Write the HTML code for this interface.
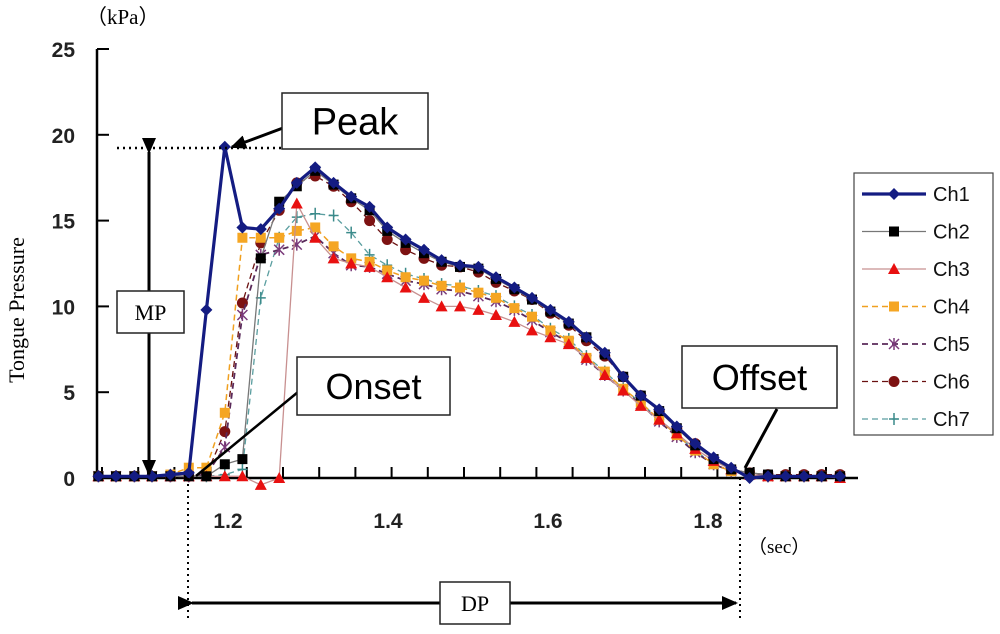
<!DOCTYPE html>
<html><head><meta charset="utf-8">
<style>
html,body{margin:0;padding:0;background:#fff;}
svg{display:block;font-family:"Liberation Sans",sans-serif;}
</style></head>
<body>
<svg id="chart" width="1000" height="634" viewBox="0 0 1000 634">
<defs>
<marker id="ah2" markerWidth="16" markerHeight="14" refX="14" refY="7" orient="auto" markerUnits="userSpaceOnUse"><path d="M0,0 L16,7 L0,14 z" fill="#000"/></marker>
</defs>
<g id="axes"></g>
<g id="series"></g>
<g id="annot"></g>
<g id="legend"></g>
</svg>
<script>
const times=[1.038,1.060,1.083,1.105,1.128,1.151,1.173,1.196,1.218,1.241,1.264,1.286,1.309,1.332,1.354,1.377,1.399,1.422,1.445,1.467,1.490,1.513,1.535,1.558,1.580,1.603,1.626,1.648,1.671,1.694,1.716,1.739,1.761,1.784,1.807,1.829,1.852,1.875,1.897,1.920,1.942,1.965];
const ch1=[0.1,0.1,0.1,0.1,0.2,0.3,9.8,19.3,14.6,14.5,15.7,17.2,18.1,17.2,16.4,15.8,14.6,13.9,13.3,12.7,12.4,12.3,11.7,11.1,10.5,9.8,9.1,8.2,7.3,5.9,4.8,4.0,3.0,2.0,1.2,0.6,0.0,0.1,0.1,0.1,0.1,0.1];
const ch2=[0.1,0.1,0.1,0.1,0.1,0.1,0.1,0.8,1.1,12.8,16.1,17.0,17.9,17.1,16.3,15.6,14.4,13.7,13.1,12.6,12.3,12.2,11.6,11.0,10.4,9.7,9.0,8.2,7.2,5.9,4.8,3.9,2.9,1.9,1.1,0.5,0.3,0.2,0.1,0.1,0.1,0.1];
const ch3=[0.1,0.1,0.1,0.1,0.1,0.1,0.1,0.1,0.1,-0.4,0.0,16.0,14.0,12.8,12.5,12.3,11.7,11.1,10.5,10.0,10.0,9.8,9.5,9.1,8.6,8.2,7.8,7.0,6.0,5.1,4.2,3.4,2.6,1.7,1.0,0.5,0.2,0.1,0.1,0.1,0.1,0.0];
const ch4=[0.1,0.1,0.1,0.1,0.2,0.6,0.6,3.8,14.0,14.0,14.0,14.4,14.6,13.5,12.8,12.6,12.1,11.7,11.5,11.2,11.1,10.8,10.5,9.9,9.4,8.6,8.0,7.0,6.2,5.2,4.4,3.4,2.5,1.6,0.8,0.4,0.2,0.1,0.1,0.1,0.1,0.1];
const ch5=[0.1,0.1,0.1,0.1,0.1,0.1,0.2,1.8,9.5,13.0,13.3,13.6,14.1,13.1,12.4,12.3,11.9,11.5,11.3,11.0,10.9,10.6,10.3,9.8,9.2,8.5,7.9,6.9,6.0,5.1,4.3,3.3,2.4,1.5,0.8,0.4,0.2,0.1,0.1,0.1,0.1,0.1];
const ch6=[0.1,0.1,0.1,0.1,0.1,0.1,0.2,2.7,10.2,13.7,15.6,17.2,17.6,17.0,16.1,15.0,13.9,13.3,12.8,12.4,12.3,12.0,11.4,10.9,10.4,9.6,8.9,8.0,7.1,5.9,4.8,3.9,2.9,2.0,1.1,0.5,0.3,0.2,0.2,0.2,0.2,0.2];
const ch7=[0.1,0.1,0.1,0.1,0.1,0.1,0.1,0.2,0.5,10.5,14.0,15.2,15.4,15.3,14.3,13.0,12.4,11.9,11.6,11.3,11.2,10.9,10.6,10.0,9.5,8.7,8.1,7.1,6.2,5.2,4.4,3.4,2.5,1.6,0.8,0.4,0.2,0.1,0.1,0.1,0.1,0.1];
const seriesNames=["Ch1","Ch2","Ch3","Ch4","Ch5","Ch6","Ch7"];
const yTicks=[0,5,10,15,20,25];
const xTicks=[1.2,1.4,1.6,1.8];

const NS="http://www.w3.org/2000/svg";
function xs(t){return 228+(t-1.2)*800;}
function ys(v){return 478-v*17.16;}
function mk(tag,attrs,parent,txt){const e=document.createElementNS(NS,tag);for(const k in attrs)e.setAttribute(k,attrs[k]);if(txt!==undefined)e.textContent=txt;parent.appendChild(e);return e;}

const axes=document.getElementById('axes');
let yl=mk('line',{x1:97,y1:49,x2:97,y2:478,stroke:'#000','stroke-width':2.5},axes);


let xl=mk('line',{x1:97,y1:478,x2:858,y2:478,stroke:'#000','stroke-width':2.5},axes);


yTicks.forEach(v=>{
  mk('line',{x1:97,y1:ys(v),x2:109,y2:ys(v),stroke:'#000','stroke-width':2},axes);
  const t=mk('text',{x:75,y:ys(v)+8,'text-anchor':'end','font-size':21,'font-weight':'bold',fill:'#222'},axes,String(v));
  
  
});
for(let px=102;px<858;px+=36.2){mk('line',{x1:px,y1:478,x2:px,y2:467,stroke:'#000','stroke-width':2},axes);}
xTicks.forEach(v=>{
  const t=mk('text',{x:xs(v),y:528,'text-anchor':'middle','font-size':21,'font-weight':'bold',fill:'#222'},axes,v.toFixed(1));
  
  
});
let yt=mk('text',{x:0,y:0,transform:'translate(24,310) rotate(-90)','text-anchor':'middle','font-size':22,'font-family':'Liberation Serif,serif',fill:'#000'},axes,'Tongue Pressure');


let ku=mk('text',{x:86,y:24,'font-size':21,'font-family':'Liberation Serif,serif',fill:'#000'},axes,'（kPa）');


let su=mk('text',{x:748,y:553,'font-size':19,'font-family':'Liberation Serif,serif',fill:'#000'},axes,'（sec）');



const styles={
 Ch1:{data:ch1,color:'#141c82',w:3.2,dash:'',m:'diamond',mc:'#141c82'},
 Ch2:{data:ch2,color:'#777',w:1.3,dash:'',m:'square',mc:'#000'},
 Ch3:{data:ch3,color:'#c89090',w:1.3,dash:'',m:'triangle',mc:'#e81010'},
 Ch4:{data:ch4,color:'#f0a020',w:1.5,dash:'6,4',m:'square',mc:'#f5a623'},
 Ch5:{data:ch5,color:'#5a2a5a',w:1.8,dash:'6,4',m:'star',mc:'#7a3a7a'},
 Ch6:{data:ch6,color:'#6a1010',w:1.3,dash:'6,4',m:'circle',mc:'#7d1212'},
 Ch7:{data:ch7,color:'#5a9ea0',w:1.3,dash:'6,4',m:'plus',mc:'#3a8a8a'}
};
function marker(g,type,x,y,c){
  if(type==='diamond')return mk('path',{d:`M${x},${y-6}L${x+6},${y}L${x},${y+6}L${x-6},${y}Z`,fill:c},g);
  if(type==='square')return mk('rect',{x:x-5,y:y-5,width:10,height:10,fill:c},g);
  if(type==='triangle')return mk('path',{d:`M${x},${y-6}L${x+6},${y+5}L${x-6},${y+5}Z`,fill:c},g);
  if(type==='circle')return mk('circle',{cx:x,cy:y,r:5.5,fill:c},g);
  if(type==='star')return mk('path',{d:`M${x-5},${y-5}L${x+5},${y+5}M${x+5},${y-5}L${x-5},${y+5}M${x},${y-6}L${x},${y+6}`,stroke:c,'stroke-width':1.5,fill:'none'},g);
  if(type==='plus')return mk('path',{d:`M${x-5},${y}L${x+5},${y}M${x},${y-6}L${x},${y+6}`,stroke:c,'stroke-width':1.5,fill:'none'},g);
}
const sg=document.getElementById('series');
seriesNames.slice().reverse().forEach(n=>{
  const st=styles[n];
  const g=mk('g',{},sg);
  
  
  const pts=st.data.map((v,i)=>xs(times[i]).toFixed(1)+','+ys(v).toFixed(1)).join(' ');
  mk('polyline',{points:pts,fill:'none',stroke:st.color,'stroke-width':st.w,'stroke-dasharray':st.dash,'stroke-linejoin':'round'},g);
  st.data.forEach((v,i)=>{
    const m=marker(g,st.m,xs(times[i]),ys(v),st.mc);
    
    
  });
});

const an=document.getElementById('annot');
function box(x,y,w,h,txt,fs,name,serif){
  const g=mk('g',{},an);
  
  
  mk('rect',{x:x,y:y,width:w,height:h,fill:'#fff',stroke:'#222','stroke-width':1.5},g);
  mk('text',{x:x+w/2,y:y+h/2+fs*0.36,'text-anchor':'middle','font-size':fs,'font-family':serif?'Liberation Serif,serif':'Liberation Sans,sans-serif',fill:'#000'},g,txt);
}
mk('line',{x1:117,y1:148,x2:283,y2:148,stroke:'#000','stroke-width':2.5,'stroke-dasharray':'2,4'},an);
mk('line',{x1:188,y1:478,x2:188,y2:622,stroke:'#000','stroke-width':2,'stroke-dasharray':'2,4'},an);
mk('line',{x1:740,y1:478,x2:740,y2:622,stroke:'#000','stroke-width':2,'stroke-dasharray':'2,4'},an);
mk('line',{x1:149,y1:152,x2:149,y2:474,stroke:'#000','stroke-width':3,'marker-end':'url(#ah2)','marker-start':'url(#ah2)'},an);
mk('line',{x1:192,y1:603,x2:736,y2:603,stroke:'#000','stroke-width':3,'marker-end':'url(#ah2)','marker-start':'url(#ah2)'},an);
mk('line',{x1:283,y1:128,x2:232,y2:147,stroke:'#000','stroke-width':3,'marker-end':'url(#ah2)'},an);
mk('line',{x1:298,y1:392,x2:196,y2:476,stroke:'#000','stroke-width':2.5},an);
mk('line',{x1:777,y1:409,x2:745,y2:468,stroke:'#000','stroke-width':3},an);
box(282,93,146,56,'Peak',38,'peak-label');
box(297,357,153,58,'Onset',36,'onset-label');
box(682,346,155,62,'Offset',36,'offset-label');
box(117,291,67,42,'MP',22,'mp-label',true);
box(440,582,70,42,'DP',22,'dp-label',true);

const lg=document.getElementById('legend');
const lb=mk('rect',{x:854,y:173,width:139,height:262,fill:'#fff',stroke:'#444','stroke-width':1.2},lg);


seriesNames.forEach((n,i)=>{
  const st=styles[n];const y=194+i*37.5;
  const g=mk('g',{},lg);
  
  
  mk('line',{x1:862,y1:y,x2:926,y2:y,stroke:st.color,'stroke-width':st.w,'stroke-dasharray':st.dash},g);
  marker(g,st.m,894,y,st.mc);
  mk('text',{x:933,y:y+7,'font-size':20,fill:'#111'},g,n);
});
</script>
</body></html>
